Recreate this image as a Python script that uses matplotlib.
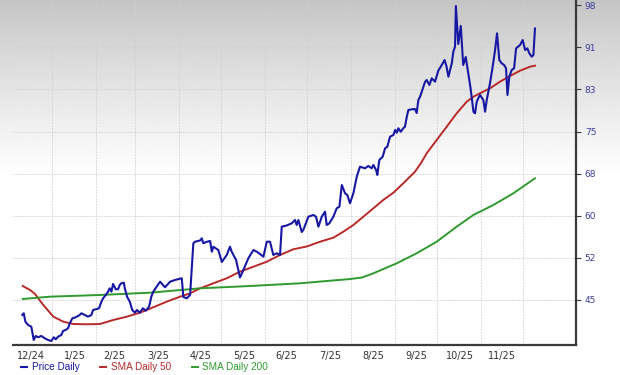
import numpy as np
import pandas as pd
import matplotlib
matplotlib.use("Agg")
import matplotlib.pyplot as plt

# x values are days counted from 2025-01-01
price_day = [-21.1, -20.1, -18.9, -17.0, -14.7, -13.0, -11.6, -9.9, -7.6, -5.2, -2.8, -0.5,
             1.2, 2.6, 4.3, 6.6, 7.8, 9.7, 11.3, 12.6, 14.4, 16.8, 19.6, 20.8, 23.2, 25.5, 27.9,
             29.1, 31.0, 33.3, 35.0, 36.2, 38.1, 39.7, 40.9, 42.1, 43.3, 45.2, 46.8, 48.0, 49.1,
             50.9, 51.6, 53.2, 55.1, 56.9, 58.7, 60.3, 62.2, 64.5, 66.5, 68.8, 70.4, 71.8, 76.6,
             80.1, 83.7, 87.2, 92.0, 93.1, 95.5, 97.9, 100.2, 101.4, 105.0, 106.2, 107.3, 109.2,
             112.1, 113.3, 114.4, 117.9, 120.4, 123.9, 126.2, 127.4, 130.5, 133.3, 135.7, 139.2,
             142.8, 145.2, 147.5, 149.9, 152.3, 154.6, 156.9, 159.4, 161.7, 162.9, 166.4, 170.0,
             172.3, 173.5, 174.7, 177.1, 178.2, 181.8, 185.3, 187.2, 188.9, 191.3, 193.6, 194.8,
             196.7, 199.5, 201.9, 203.8, 205.5, 207.8, 209.4, 211.3, 213.7, 216.1, 218.4, 222.0,
             224.3, 226.7, 227.9, 229.8, 230.7, 232.1, 234.5, 236.2, 237.8, 239.7, 242.1, 243.3,
             244.5, 245.6, 247.3, 249.1, 250.3, 251.6, 252.7, 255.1, 257.4, 258.6, 259.8, 261.0,
             264.5, 265.7, 267.6, 269.3, 271.6, 274.0, 276.4, 278.4, 279.8, 281.1, 283.5, 284.6,
             285.8, 286.4, 288.1, 289.9, 291.6, 293.4, 296.8, 298.9, 300.0, 301.2, 302.3, 303.5,
             305.9, 307.1, 308.3, 310.6, 312.5, 314.2, 315.6, 317.2, 318.9, 320.6, 322.0, 323.0,
             324.3, 326.0, 327.7, 329.1, 331.9, 333.8, 335.5, 337.1, 338.5, 340.2, 341.4, 342.5]
price_val = [42.33, 42.63, 41.13, 40.55, 40.24, 37.87, 38.59, 38.36, 38.59, 38.18, 37.87, 37.70,
             38.36, 38.00, 38.46, 38.77, 39.48, 39.66, 39.96, 40.85, 41.74, 41.92, 42.33, 42.63,
             42.33, 42.03, 42.33, 43.22, 43.34, 43.52, 44.70, 45.30, 45.89, 46.48, 47.08, 46.48,
             47.85, 46.91, 46.91, 47.67, 47.97, 48.08, 47.08, 45.59, 44.70, 43.22, 42.74, 43.22,
             42.74, 43.52, 43.09, 43.81, 45.59, 46.48, 48.26, 47.26, 48.26, 48.56, 48.87, 45.53,
             45.30, 45.89, 55.10, 55.38, 55.60, 55.99, 55.10, 55.33, 55.51, 53.60, 54.49, 53.90,
             51.77, 53.02, 54.49, 53.60, 52.13, 49.01, 50.34, 52.43, 53.90, 53.60, 53.19, 52.71,
             55.38, 55.38, 53.02, 53.32, 53.02, 58.06, 58.27, 58.66, 59.25, 58.36, 59.25, 57.11,
             57.47, 59.84, 60.14, 59.84, 58.06, 59.84, 60.73, 58.36, 58.66, 59.84, 61.33, 61.62,
             65.48, 64.01, 63.70, 62.23, 64.01, 66.96, 68.74, 68.46, 68.87, 68.46, 69.05, 68.16,
             67.27, 69.94, 70.53, 72.02, 72.31, 74.09, 74.39, 75.28, 74.80, 75.59, 74.98, 75.59,
             75.87, 77.65, 78.84, 78.97, 79.02, 78.31, 80.63, 81.21, 83.83, 84.19, 83.30, 84.49,
             83.89, 85.88, 86.86, 87.75, 86.56, 84.78, 87.16, 89.23, 90.12, 97.37, 90.60, 93.81,
             86.86, 88.29, 82.76, 78.49, 78.26, 80.32, 80.93, 81.52, 80.63, 78.54, 80.63, 83.60,
             86.56, 89.53, 92.51, 87.75, 87.16, 86.86, 86.27, 81.52, 84.78, 85.97, 86.27, 89.83,
             90.42, 91.31, 89.53, 89.83, 88.94, 88.34, 88.64, 93.36]

sma50_day = [-20.8, -15.6, -12.1, -6.2, 0.9, 8.0, 15.1, 24.6, 34.0, 43.5, 53.0, 62.4, 71.8,
             81.3, 90.8, 97.9, 105.0, 114.4, 123.9, 133.3, 142.8, 152.3, 161.7, 171.1, 180.6,
             190.1, 199.5, 206.6, 213.7, 220.8, 227.9, 234.9, 242.1, 249.1, 257.4, 261.7, 265.7,
             272.8, 279.9, 287.0, 294.1, 298.8, 303.5, 310.6, 317.7, 324.8, 331.9, 339.0, 342.5]
sma50_val = [47.49, 46.78, 46.07, 44.11, 42.03, 41.13, 40.72, 40.67, 40.72, 41.44, 42.03, 42.74,
             43.70, 44.70, 45.59, 46.19, 47.08, 47.97, 48.87, 50.04, 50.93, 51.82, 53.02, 54.03,
             54.53, 55.38, 56.10, 57.17, 58.36, 59.84, 61.33, 62.81, 64.11, 65.79, 67.85, 69.40,
             71.13, 73.50, 75.87, 78.26, 80.32, 81.21, 81.82, 82.71, 83.89, 84.90, 85.85, 86.56,
             86.74]

sma200_day = [-20.8, -1.4, 34.0, 69.5, 105.0, 140.4, 175.9, 194.8, 210.0, 219.6, 226.7, 233.0,
              244.5, 258.6, 272.8, 287.0, 298.8, 313.0, 327.2, 342.5]
sma200_val = [45.18, 45.59, 45.89, 46.30, 47.08, 47.49, 47.97, 48.38, 48.70, 48.99, 49.63, 50.30,
              51.54, 53.32, 55.38, 58.06, 60.14, 61.92, 64.01, 66.68]

y_ticks = [45, 52.5, 60, 67.5, 75, 82.5, 90, 97.5]
y_labels = ["45", "52", "60", "68", "75", "83", "91", "98"]
month_labels = ["12/24", "1/25", "2/25", "3/25", "4/25", "5/25", "6/25",
                "7/25", "8/25", "9/25", "10/25", "11/25"]

origin = pd.Timestamp("2025-01-01")
month_starts = pd.date_range("2025-01-01", "2025-12-01", freq="MS")
grid_days = [(d - origin).days for d in month_starts]
label_days = [d - 15 for d in grid_days]

W, H = 620, 375
fig = plt.figure(figsize=(W / 100, H / 100), dpi=100)
fig.patch.set_facecolor("white")

# grey-to-white background wash
bg = fig.add_axes([0, 0, 1, 1], zorder=0)
rows = np.arange(H)
shade = 0.77 + 0.23 * np.clip(rows / 175.0, 0, 1) ** 0.9
bg.imshow(shade[:, None], aspect="auto", cmap="gray", vmin=0, vmax=1,
          extent=[0, 1, 0, 1], interpolation="bilinear")
bg.axis("off")

ax = fig.add_axes([13 / W, 30 / H, 563 / W, 345 / H], zorder=1)
ax.patch.set_alpha(0)

l1, = ax.plot(price_day, price_val, color="#1717a3", lw=1.5, label="Price Daily", zorder=4)
l2, = ax.plot(sma50_day, sma50_val, color="#b82a2a", lw=1.4, label="SMA Daily 50", zorder=3)
l3, = ax.plot(sma200_day, sma200_val, color="#2f9a2f", lw=1.4, label="SMA Daily 200", zorder=3)

ax.set_xlim(-27.7, 371.6)
ax.set_ylim(36.98, 98.44)

ax.set_xticks(label_days)
ax.set_xticklabels(month_labels)
ax.set_xticks(grid_days, minor=True)
ax.tick_params(axis="x", which="both", length=0, pad=4, labelsize=7, labelcolor="#333333")

ax.yaxis.tick_right()
ax.set_yticks(y_ticks)
ax.set_yticklabels(y_labels)
ax.tick_params(axis="y", direction="out", length=3.3, width=0.8, color="#3a3a3a",
               pad=3, labelsize=6.5, labelcolor="#3d3d9e")

ax.grid(which="minor", axis="x", color="#cfcfcf", lw=0.6, ls=(0, (2, 1.5)))
ax.grid(which="major", axis="y", color="#cfcfcf", lw=0.6, ls=(0, (2, 1.5)))
ax.yaxis.get_gridlines()[-1].set_visible(False)

for side in ("top", "left"):
    ax.spines[side].set_visible(False)
for side in ("right", "bottom"):
    ax.spines[side].set_color("#3a3a3a")
    ax.spines[side].set_linewidth(1.6)

fig.legend(handles=[l1, l2, l3], loc="center left", bbox_to_anchor=(21 / W, 8 / H),
           ncol=3, frameon=False, handlelength=0.55, handletextpad=0.5, columnspacing=2.1,
           borderpad=0, borderaxespad=0, labelcolor="linecolor",
           prop={"family": "Liberation Sans", "size": 7.2})

fig.savefig("out.png", dpi=100)
